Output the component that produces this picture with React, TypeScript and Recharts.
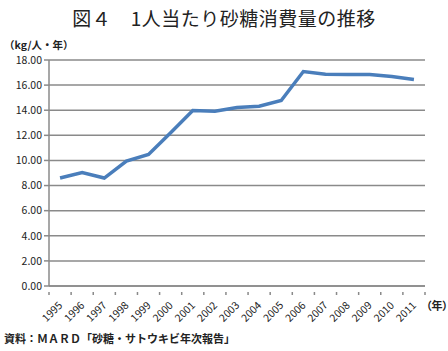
import React from 'react';
import { LineChart, Line, XAxis, YAxis, CartesianGrid } from 'recharts';

const years = ['1995','1996','1997','1998','1999','2000','2001','2002','2003','2004','2005','2006','2007','2008','2009','2010','2011'];
const consumption = [8.6, 9.04, 8.6, 9.94, 10.47, 12.2, 13.98, 13.92, 14.21, 14.32, 14.77, 17.08, 16.87, 16.84, 16.84, 16.68, 16.45];
const yTicks = [0, 2, 4, 6, 8, 10, 12, 14, 16, 18];

const data = years.map((y, i) => ({ year: y, value: consumption[i] }));

const GRID = '#8a8a8a';
const FONT = '"Noto Sans CJK JP", "Noto Sans", sans-serif';

const XTick = (props: any) => {
  const { x, y, payload, index } = props;
  const off = payload && payload.offset ? payload.offset : 11;
  return (
    <g>
      <line x1={x - off} y1={y - 2} x2={x - off} y2={y + 1} stroke={GRID} strokeWidth={1.5} />
      {index === years.length - 1 && (
        <line x1={x + off} y1={y - 2} x2={x + off} y2={y + 1} stroke={GRID} strokeWidth={1.5} />
      )}
      <text
        x={x + 3}
        y={y + 12}
        textAnchor="end"
        fontSize={10.5}
        fontFamily={FONT}
        fill="#222"
        transform={`rotate(-45, ${x + 3}, ${y + 12})`}
      >
        {payload.value}
      </text>
    </g>
  );
};

export default function App() {
  return (
    <div style={{ position: 'absolute', left: 0, top: 0, width: 448, height: 351, background: '#fff', fontFamily: FONT }}>
      <div style={{ position: 'absolute', left: 0, top: 4, width: 448, textAlign: 'center', fontSize: 19, fontWeight: 400, color: '#222', letterSpacing: 0.5 }}>
        図４　1人当たり砂糖消費量の推移
      </div>
      <div style={{ position: 'absolute', left: 4, top: 37, fontSize: 10.5, fontWeight: 700, color: '#222' }}>
        （kg/人・年）
      </div>
      <div style={{ position: 'absolute', left: 426, top: 297, fontSize: 11, fontWeight: 700, color: '#222', whiteSpace: 'nowrap', fontFeatureSettings: '"palt"' }}>
        （年）
      </div>
      <div style={{ position: 'absolute', left: 4, top: 330, fontSize: 11, fontWeight: 700, color: '#222' }}>
        資料：ＭＡＲＤ「砂糖・サトウキビ年次報告」
      </div>
      <div style={{ position: 'absolute', left: 0, top: 0 }}>
        <LineChart width={448} height={351} data={data} margin={{ top: 60, right: 23, bottom: 0, left: 0 }}>
          <CartesianGrid vertical={false} stroke={GRID} strokeWidth={1.5} />
          <XAxis
            dataKey="year"
            scale="band"
            interval={0}
            axisLine={{ stroke: GRID, strokeWidth: 1.5 }}
            tickLine={false}
            tick={<XTick />}
            height={65}
          />
          <YAxis
            domain={[0, 18]}
            ticks={yTicks}
            interval={0}
            width={49}
            axisLine={{ stroke: GRID, strokeWidth: 1.5 }}
            tickLine={{ stroke: GRID, strokeWidth: 1.5 }}
            tickSize={5}
            tickFormatter={(v: number) => v.toFixed(2)}
            tick={{ fontSize: 10.5, fill: '#222', fontFamily: FONT }}
          />
          <Line
            type="linear"
            dataKey="value"
            stroke="#4a7ebb"
            strokeWidth={3.5}
            dot={false}
            isAnimationActive={false}
          />
        </LineChart>
      </div>
    </div>
  );
}
